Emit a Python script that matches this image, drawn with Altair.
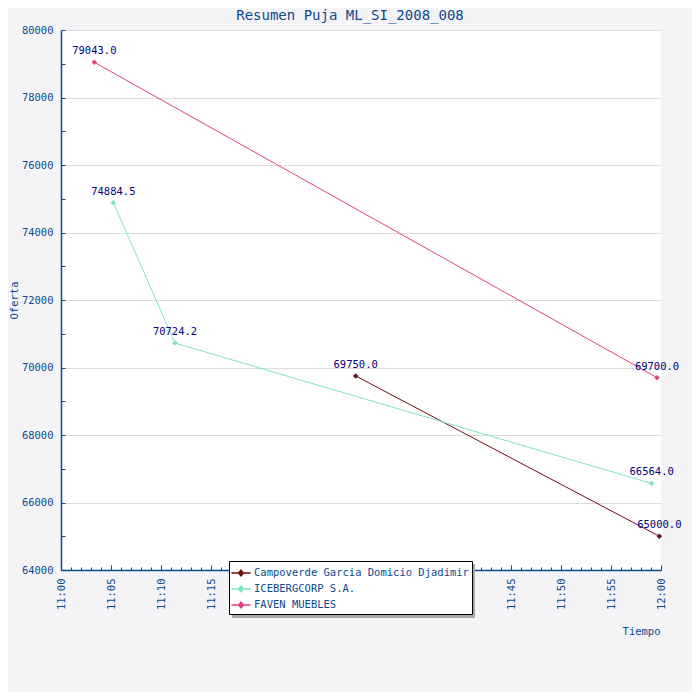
import altair as alt
import pandas as pd

series = ["Campoverde Garcia Domicio Djadimir", "ICEBERGCORP S.A.", "FAVEN MUEBLES"]
colors = ["#6b0f14", "#7fe3c6", "#e2427a"]

camp_t = ["11:29:28", "11:59:50"]
camp_v = [69750.0, 65000.0]
ice_t = ["11:05:14", "11:11:24", "11:59:04"]
ice_v = [74884.5, 70724.2, 66564.0]
fav_t = ["11:03:20", "11:59:36"]
fav_v = [79043.0, 69700.0]

y_labels = [64000, 66000, 68000, 70000, 72000, 74000, 76000, 78000, 80000]
y_minor = [64000 + 1000 * i for i in range(17)]
x_minor = [alt.DateTime(year=2008, month=1, date=1, hours=11, minutes=m) for m in range(60)] + \
          [alt.DateTime(year=2008, month=1, date=1, hours=12, minutes=0)]
x_major = [alt.DateTime(year=2008, month=1, date=1, hours=11, minutes=m) for m in range(0, 60, 5)] + \
          [alt.DateTime(year=2008, month=1, date=1, hours=12, minutes=0)]

rows = []
for name, ts, vs in zip(series, [camp_t, ice_t, fav_t], [camp_v, ice_v, fav_v]):
    for t, v in zip(ts, vs):
        rows.append({"serie": name, "tiempo": "2008-01-01T" + t, "oferta": v})
df = pd.DataFrame(rows)

FONT = "DejaVu Sans Mono"
BLUE = "#0a4a93"

xscale = alt.Scale(
    domain=[alt.DateTime(year=2008, month=1, date=1, hours=11),
            alt.DateTime(year=2008, month=1, date=1, hours=12)],
    nice=False,
)
yscale = alt.Scale(domain=[64000, 80000], nice=False, zero=False)
cscale = alt.Scale(domain=series, range=colors)

diamond_line = "M-1.2,0L1.2,0M0,-0.36L0.3,0L0,0.36L-0.3,0Z"

base = alt.Chart(df)

lines = base.mark_line(strokeWidth=1).encode(
    x=alt.X("tiempo:T", scale=xscale, axis=alt.Axis(
        orient="bottom", format="%H:%M", values=x_major,
        labelAngle=270, labelAlign="right", labelBaseline="middle", labelPadding=8,
        labelFont=FONT, labelFontSize=10.5, labelColor=BLUE,
        ticks=False, domain=True, domainColor=BLUE, domainWidth=1.5, grid=False,
        title="Tiempo", titleX=599, titleY=61, titleAlign="right", titleBaseline="middle",
        titleFont=FONT, titleFontSize=10.5, titleFontWeight="normal", titleColor=BLUE,
    )),
    y=alt.Y("oferta:Q", scale=yscale, axis=alt.Axis(
        orient="left", values=y_labels, format="d",
        labelPadding=8, labelFont=FONT, labelFontSize=10.5, labelColor=BLUE,
        ticks=False, domain=True, domainColor=BLUE, domainWidth=1.5,
        grid=True, gridColor="#dcdcdc", gridWidth=1,
        title="Oferta", titleX=-47, titleY=270, titleAngle=270, titleAlign="center",
        titleBaseline="middle",
        titleFont=FONT, titleFontSize=10.5, titleFontWeight="normal", titleColor=BLUE,
    )),
    color=alt.Color("serie:N", scale=cscale, sort=series, legend=alt.Legend(
        title=None, orient="none", legendX=168, legendY=531,
        fillColor="white", strokeColor="black", padding=3,
        symbolType=diamond_line, symbolSize=256, symbolStrokeWidth=1.5,
        labelFont=FONT, labelFontSize=10.5, labelColor=BLUE, labelOffset=4,
        rowPadding=1, labelLimit=300,
    )),
)

points = base.mark_point(shape="diamond", filled=True, size=30, opacity=1).encode(
    x=alt.X("tiempo:T", scale=xscale, axis=alt.Axis(
        orient="top", offset=-540, labels=False, domain=False, grid=False,
        ticks=True, tickColor=BLUE, tickWidth=1, tickSize=3, values=x_minor,
        title=None,
    )),
    y=alt.Y("oferta:Q", scale=yscale, axis=alt.Axis(
        orient="right", offset=-600, labels=False, domain=False, grid=False,
        ticks=True, tickColor=BLUE, tickWidth=1, tickSize=4, values=y_minor,
        title=None,
    )),
    color=alt.Color("serie:N", scale=cscale, sort=series, legend=None),
)

labels = base.mark_text(dy=-11, font=FONT, fontSize=10.5, color="#000080").encode(
    x=alt.X("tiempo:T", scale=xscale, axis=alt.Axis(
        orient="top", offset=-540, labels=False, domain=False, grid=False,
        ticks=True, tickColor=BLUE, tickWidth=1, tickSize=5, values=x_major,
        title=None,
    )),
    y=alt.Y("oferta:Q", scale=yscale, axis=None),
    text=alt.Text("oferta:Q", format=".1f"),
)

shadow = alt.Chart(pd.DataFrame({"a": [0]})).mark_rect(color="#a8a8a8").encode(
    x=alt.value(171), x2=alt.value(414), y=alt.value(534), y2=alt.value(588),
)

chart = alt.layer(shadow, lines, points, labels).resolve_axis(
    x="independent", y="independent"
).properties(
    width=600, height=540,
    autosize=alt.AutoSizeParams(type="none"),
    padding={"left": 53, "top": 22, "right": 31, "bottom": 122},
    background="#f4f4f6",
    title=alt.TitleParams("Resumen Puja ML_SI_2008_008", font=FONT, fontSize=14,
                          fontWeight="normal", color=BLUE, dx=-11, offset=2),
).configure_view(fill="white", stroke=None)

chart.save("out.html", embed_options={"renderer": "svg", "actions": False})
